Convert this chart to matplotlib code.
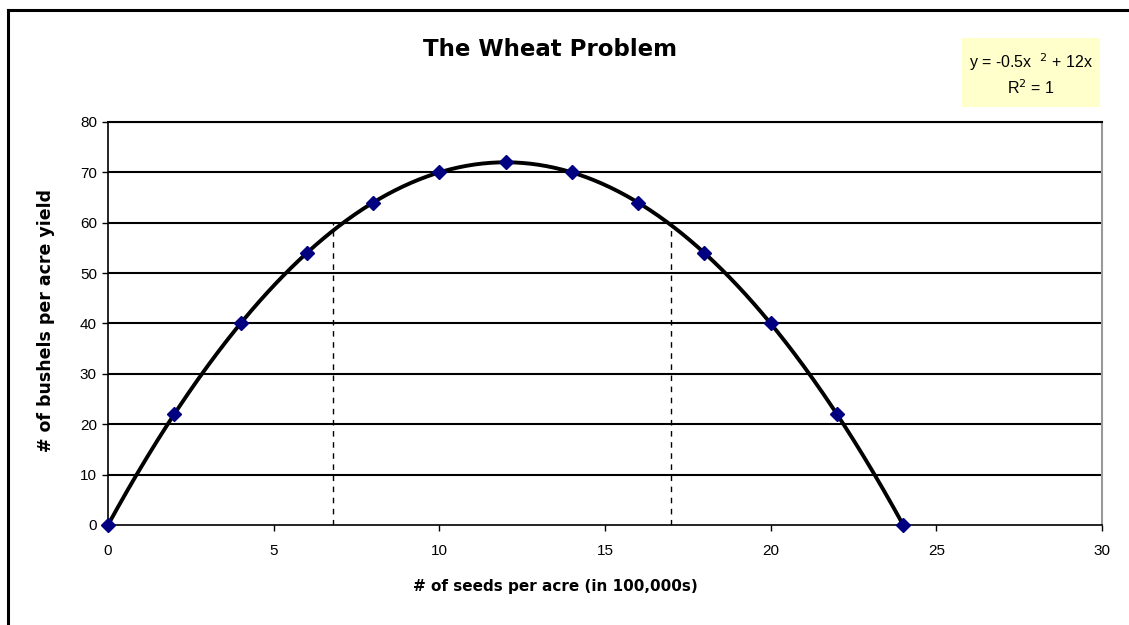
import numpy as np
import matplotlib
matplotlib.use("Agg")
import matplotlib.pyplot as plt
from matplotlib.patches import Rectangle
from matplotlib.lines import Line2D

plt.rcParams['font.family'] = ['Liberation Sans', 'DejaVu Sans']

# Data
seeds = [0, 2, 4, 6, 8, 10, 12, 14, 16, 18, 20, 22, 24]
yield_bushels = [0, 22, 40, 54, 64, 70, 72, 70, 64, 54, 40, 22, 0]
dashed_x = [6.8, 17.0]
dashed_top = 60
x_ticks = [0, 5, 10, 15, 20, 25, 30]
y_ticks = [0, 10, 20, 30, 40, 50, 60, 70, 80]

W, H = 1129, 625
fig = plt.figure(figsize=(W / 100, H / 100), dpi=100)

# outer chart frame (only top and left visible)
fig.add_artist(Line2D([8 / W, 8 / W], [0, 1 - 10 / H], transform=fig.transFigure, color='black', lw=2.2))
fig.add_artist(Line2D([8 / W, 1], [1 - 10 / H, 1 - 10 / H], transform=fig.transFigure, color='black', lw=2.2))

ax = fig.add_axes([108 / W, 1 - 525 / H, (1102 - 108) / W, (525 - 122) / H])
ax.set_xlim(0, 30)
ax.set_ylim(0, 80)

for yv in y_ticks[1:]:
    ax.axhline(yv, color='black', lw=1.5, zorder=1)

# trendline from data
coef = np.polyfit(seeds, yield_bushels, 2)
xs = np.linspace(min(seeds), max(seeds), 400)
ax.plot(xs, np.polyval(coef, xs), color='black', lw=2.8, zorder=3)
ax.plot(seeds, yield_bushels, linestyle='none', marker='D', markersize=7.5,
        color='#000080', zorder=4, clip_on=False)

for dx in dashed_x:
    ax.plot([dx, dx], [0, dashed_top], color='black', lw=1, linestyle=(0, (4, 4)), zorder=2)

ax.set_xticks(x_ticks)
ax.set_yticks(y_ticks)
ax.tick_params(axis='both', labelsize=11, direction='out', length=4, width=1, color='black')
ax.tick_params(axis='x', pad=10)
ax.tick_params(axis='y', pad=4)

for s in ['left', 'bottom']:
    ax.spines[s].set_color('black')
    ax.spines[s].set_linewidth(1.2)
ax.spines['right'].set_color('#999999')
ax.spines['right'].set_linewidth(1.5)
ax.spines['top'].set_color('black')
ax.spines['top'].set_linewidth(1.5)

fig.text(555 / W, 1 - 586 / H, '# of seeds per acre (in 100,000s)', fontsize=11,
         fontweight='bold', family=['DejaVu Sans'], ha='center', va='center')
fig.text(46 / W, 1 - 320 / H, '# of bushels per acre yield', rotation=90, fontsize=12.5,
         fontweight='bold', family=['DejaVu Sans'], ha='center', va='center')

fig.text(550 / W, 1 - 49 / H, 'The Wheat Problem', fontsize=16.5, fontweight='bold',
         family=['DejaVu Sans'], ha='center', va='center')

# equation box
fig.add_artist(Rectangle((962 / W, 1 - 107 / H), (1100 - 962) / W, (107 - 38) / H,
                         transform=fig.transFigure, facecolor='#FFFFCC', edgecolor='none'))
fig.text(1031 / W, 1 - 62 / H, 'y = -0.5x  $^2$ + 12x', fontsize=11.5, ha='center', va='center')
fig.text(1031 / W, 1 - 88 / H, 'R$^2$ = 1', fontsize=11.5, ha='center', va='center')

fig.savefig('out.png', dpi=100)
